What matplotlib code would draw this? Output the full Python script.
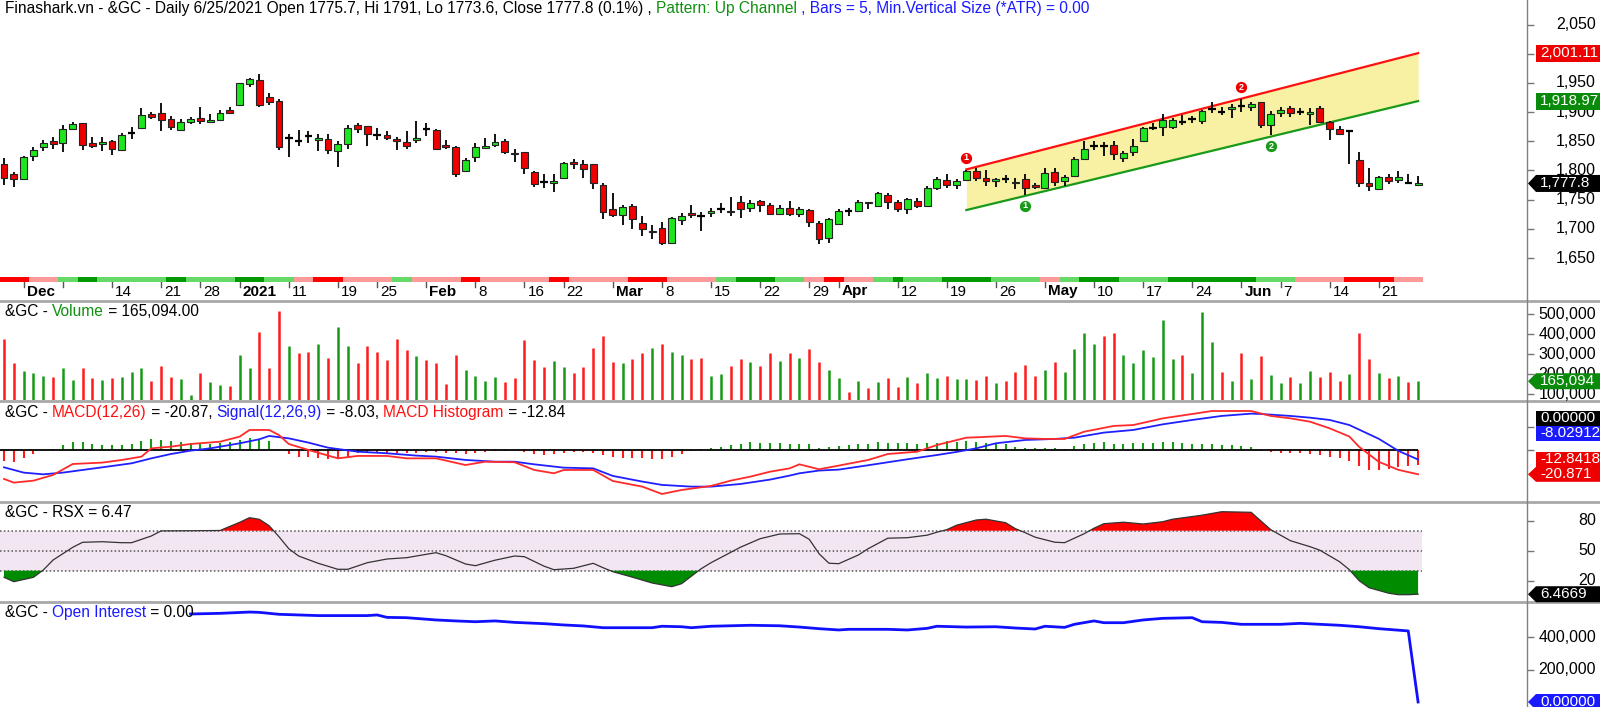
import numpy as np
import pandas as pd
import matplotlib
matplotlib.use('Agg')
import matplotlib.pyplot as plt
from matplotlib.patches import Polygon
from matplotlib.lines import Line2D
from matplotlib import transforms

plt.rcParams['font.family'] = ['Liberation Sans', 'DejaVu Sans']

W, H = 1600, 707
AXIS_X = 1527

# ---------------- data ----------------
holidays = ['2020-12-25', '2021-01-01', '2021-01-18', '2021-02-15', '2021-04-02', '2021-05-31']
dates = pd.bdate_range('2020-11-27', '2021-06-25', freq='C', holidays=holidays)

opens = [1811.2, 1794.8, 1784.9, 1824.7, 1839.9, 1850.4, 1846.9, 1870.3, 1880.9, 1847.5,
         1845.7, 1850.4, 1835.2, 1865.1, 1873.2, 1896.1, 1897.8, 1887.9, 1869.7, 1883.2,
         1890.8, 1882.6, 1886.8, 1903.7, 1912.5, 1948.2, 1955.2, 1925.3, 1919.5, 1855.1,
         1850.4, 1859.2, 1852.2, 1853.4, 1834.1, 1845.1, 1877.4, 1875.6, 1860.4, 1860.4,
         1854.5, 1848.7, 1851.6, 1870.3, 1869.1, 1843.4, 1839.9, 1798.9, 1822.9, 1838.2,
         1843.4, 1850.4, 1830.5, 1831.1, 1797.7, 1779.6, 1779.0, 1786.7, 1815.3, 1810.7,
         1810.7, 1774.9, 1734.5, 1723.4, 1739.3, 1709.4, 1695.3, 1701.7, 1676.5, 1714.7,
         1726.9, 1722.2, 1727.5, 1734.0, 1731.0, 1745.6, 1735.7, 1747.4, 1740.4, 1725.7,
         1736.3, 1725.7, 1732.8, 1710.5, 1684.1, 1708.8, 1730.4, 1731.0, 1746.2, 1739.8,
         1758.5, 1746.8, 1734.5, 1747.9, 1739.3, 1769.7, 1783.2, 1774.3, 1783.7, 1798.9,
         1787.8, 1781.4, 1785.5, 1780.2, 1786.1, 1775.5, 1770.8, 1797.7, 1781.4, 1790.8,
         1820.5, 1842.3, 1842.3, 1843.4, 1821.7, 1832.3, 1850.4, 1873.2, 1875.0, 1875.0,
         1882.6, 1889.1, 1885.6, 1906.0, 1900.8, 1905.5, 1911.3, 1909.6, 1916.6, 1877.9,
         1899.0, 1906.6, 1900.8, 1896.6, 1906.6, 1883.8, 1871.5, 1867.3, 1817.6, 1777.8,
         1769.1, 1788.4, 1783.7, 1779.0, 1775.7]
highs = [1821.7, 1797.7, 1825.2, 1841.1, 1852.2, 1856.9, 1877.9, 1883.8, 1880.9, 1858.1,
         1856.9, 1852.2, 1865.1, 1875.0, 1906.6, 1900.7, 1916.5, 1893.7, 1888.5, 1891.9,
         1908.4, 1896.1, 1903.7, 1909.6, 1950.5, 1959.3, 1965.2, 1933.6, 1922.4, 1862.8,
         1869.1, 1867.3, 1862.8, 1862.8, 1851.0, 1877.4, 1880.9, 1876.8, 1872.1, 1866.9,
         1858.1, 1867.9, 1885.0, 1882.1, 1870.9, 1852.2, 1842.3, 1821.7, 1846.3, 1855.1,
         1862.8, 1854.5, 1836.4, 1832.3, 1798.9, 1793.7, 1794.8, 1815.3, 1819.4, 1818.3,
         1810.7, 1777.8, 1762.1, 1741.0, 1742.2, 1722.2, 1706.4, 1712.3, 1721.1, 1727.5,
         1741.0, 1729.3, 1736.3, 1744.0, 1753.8, 1756.8, 1749.1, 1749.1, 1745.1, 1740.4,
         1747.4, 1738.1, 1734.0, 1714.1, 1718.2, 1734.5, 1736.3, 1749.1, 1746.2, 1763.3,
         1760.9, 1749.1, 1752.7, 1753.3, 1773.7, 1789.6, 1794.8, 1785.5, 1800.7, 1803.6,
         1800.7, 1787.2, 1792.6, 1786.7, 1794.8, 1779.0, 1803.6, 1803.6, 1792.6, 1823.5,
         1850.4, 1851.0, 1849.3, 1850.4, 1833.5, 1853.4, 1875.0, 1882.1, 1896.1, 1889.7,
         1894.9, 1893.1, 1903.7, 1916.6, 1908.4, 1914.3, 1922.4, 1916.6, 1917.2, 1902.5,
         1908.4, 1911.3, 1906.6, 1907.8, 1911.3, 1885.0, 1876.2, 1869.1, 1832.3, 1803.6,
         1790.2, 1794.8, 1798.9, 1793.7, 1791.0]
lows = [1774.9, 1772.0, 1783.7, 1817.1, 1833.5, 1837.6, 1832.3, 1869.1, 1835.2, 1838.2,
        1834.1, 1825.8, 1834.1, 1854.5, 1871.4, 1887.9, 1866.9, 1869.7, 1867.4, 1879.7,
        1879.7, 1881.5, 1885.0, 1896.1, 1911.9, 1943.5, 1908.4, 1912.5, 1835.2, 1822.3,
        1842.3, 1847.5, 1834.1, 1828.2, 1806.5, 1837.6, 1865.1, 1842.2, 1852.2, 1852.2,
        1835.2, 1836.4, 1847.5, 1859.2, 1836.4, 1836.4, 1789.6, 1797.1, 1814.2, 1836.4,
        1841.1, 1827.6, 1815.3, 1793.7, 1772.0, 1770.8, 1763.8, 1784.9, 1801.8, 1787.8,
        1767.9, 1716.4, 1720.0, 1705.9, 1699.4, 1687.1, 1682.4, 1671.8, 1675.3, 1706.4,
        1719.4, 1696.4, 1721.1, 1726.3, 1722.8, 1719.4, 1728.1, 1729.3, 1724.6, 1724.6,
        1721.6, 1720.0, 1703.5, 1674.1, 1675.3, 1706.4, 1722.8, 1730.4, 1734.0, 1736.9,
        1734.0, 1729.3, 1724.6, 1735.7, 1736.9, 1766.8, 1770.2, 1769.1, 1782.6, 1782.6,
        1773.7, 1772.0, 1777.8, 1768.0, 1758.0, 1769.1, 1769.6, 1773.7, 1773.1, 1788.4,
        1818.8, 1835.2, 1824.7, 1818.3, 1815.3, 1825.2, 1849.3, 1869.1, 1859.2, 1870.3,
        1877.4, 1880.9, 1879.7, 1897.8, 1894.9, 1889.7, 1900.8, 1902.5, 1873.2, 1861.0,
        1890.9, 1890.9, 1894.9, 1877.9, 1880.9, 1852.2, 1860.4, 1811.3, 1772.0, 1765.6,
        1768.0, 1776.7, 1777.8, 1778.5, 1773.6]
closes = [1786.7, 1784.9, 1823.5, 1835.2, 1846.3, 1845.7, 1870.3, 1879.1, 1843.4, 1842.2,
          1848.7, 1836.4, 1860.4, 1865.1, 1894.3, 1891.9, 1886.8, 1875.0, 1882.6, 1888.5,
          1885.6, 1887.3, 1897.8, 1899.0, 1949.3, 1957.0, 1912.5, 1917.7, 1841.1, 1855.1,
          1850.4, 1859.2, 1855.7, 1835.2, 1845.1, 1872.6, 1870.3, 1862.2, 1860.4, 1855.7,
          1849.8, 1842.2, 1856.3, 1870.3, 1837.6, 1841.1, 1794.8, 1818.3, 1839.9, 1842.8,
          1848.7, 1832.3, 1827.6, 1803.6, 1776.7, 1779.6, 1781.4, 1812.4, 1811.8, 1801.8,
          1777.8, 1729.3, 1723.4, 1737.5, 1716.4, 1699.4, 1697.0, 1675.3, 1718.8, 1722.8,
          1723.4, 1722.2, 1731.0, 1734.0, 1728.1, 1734.5, 1744.5, 1740.4, 1725.7, 1735.7,
          1725.7, 1734.5, 1711.7, 1682.4, 1716.4, 1729.8, 1730.4, 1745.6, 1745.1, 1760.9,
          1746.8, 1734.5, 1750.3, 1739.3, 1769.7, 1786.1, 1774.3, 1781.4, 1798.3, 1786.7,
          1782.6, 1785.5, 1785.5, 1777.8, 1770.8, 1771.4, 1796.5, 1780.2, 1789.6, 1820.5,
          1836.4, 1842.3, 1842.3, 1827.6, 1829.4, 1842.8, 1872.1, 1873.2, 1886.8, 1886.8,
          1882.6, 1889.1, 1901.9, 1906.0, 1900.8, 1909.6, 1911.3, 1914.3, 1877.9, 1896.1,
          1903.7, 1899.0, 1900.8, 1900.8, 1883.8, 1870.9, 1862.8, 1867.3, 1779.0, 1773.1,
          1788.4, 1782.6, 1788.4, 1779.0, 1777.8]

# trend strip under the price chart: run lengths of r=red, p=pink, l=light green, d=dark green
strip_runs = [('r', 3), ('p', 3), ('l', 2), ('d', 2), ('l', 7), ('d', 2), ('l', 5), ('d', 3),
              ('l', 3), ('p', 2), ('r', 3), ('p', 5), ('l', 2), ('p', 5), ('r', 2), ('p', 7),
              ('r', 2), ('p', 6), ('r', 4), ('p', 5), ('l', 2), ('d', 4), ('l', 3), ('p', 2),
              ('r', 2), ('p', 3), ('l', 2), ('d', 1), ('l', 4), ('d', 5), ('l', 5), ('p', 2),
              ('l', 2), ('d', 4), ('l', 5), ('d', 9), ('l', 4), ('p', 5), ('r', 5), ('p', 3)]

# up channel
ch_idx = [98, 144]
ch_upper = [1801.8, 2001.11]
ch_lower = [1732.2, 1918.97]
mark_idx = [98, 126, 104, 129]
mark_val = [1821.7, 1942.3, 1739.3, 1841.6]
mark_txt = ['1', '2', '1', '2']
mark_up = [True, True, False, False]

# volume in thousands
volume = [374, 256, 218, 204, 193, 188, 230, 171, 233, 181, 171, 181, 188, 213, 233, 164, 243, 188,
          174, 97, 208, 159, 147, 142, 298, 230, 411, 230, 517, 339, 305, 312, 349, 282, 436, 339,
          256, 339, 312, 273, 377, 322, 290, 273, 255, 151, 297, 221, 193, 164, 188, 159, 181, 369,
          273, 238, 265, 235, 204, 238, 332, 391, 260, 256, 277, 308, 329, 352, 310, 297, 277, 282,
          191, 199, 243, 277, 261, 241, 305, 268, 308, 280, 327, 260, 221, 181, 112, 164, 129, 159,
          181, 137, 188, 156, 208, 181, 189, 177, 177, 171, 189, 156, 164, 213, 248, 189, 221, 263,
          209, 324, 406, 349, 391, 403, 298, 256, 322, 285, 470, 277, 298, 206, 508, 361, 213, 166,
          305, 177, 293, 196, 157, 186, 156, 216, 186, 209, 164, 201, 406, 277, 204, 181, 189, 161,
          165.094]
vol_colors = ("rrgggrggrr" "grgggrrrgg" "rggrggrrrg" "rrgrggrrrr" "rrgrrrrggg"
              "grrrrrggrr" "rrrgrrgrgg" "rrggrrgrrg" "rgrrggrgrg" "rrgrggrggr"
              "rgrrrrgrgg" "ggrrgggggg" "rgggrgrgrg" "grggrrrgrr" "grgrg")

macd_idx = [0, 1, 3, 5, 7, 10, 12, 14, 15, 17, 19, 22, 24, 25, 27, 28, 29, 31, 34, 36, 39, 41, 44,
            47, 49, 52, 54, 56, 57, 60, 62, 65, 67, 69, 72, 74, 76, 78, 80, 81, 83, 85, 88, 90,
            93, 95, 98, 99, 102, 104, 106, 108, 110, 113, 115, 118, 121, 123, 127, 129, 131, 133,
            135, 137, 138, 139, 140, 142, 144]
macd_val = [-24.9, -28.1, -26.4, -21.4, -11.9, -10.7, -8.4, -5.5, 1.7, 3.2, 5.5, 7.5, 11.9, 17.7,
            17.7, 13.3, 5.5, 0.3, -7.0, -4.9, -4.9, -7.0, -7.0, -12.8, -9.9, -10.4, -17.1, -20.0,
            -17.1, -17.1, -26.7, -31.6, -38.0, -34.5, -31.0, -26.4, -22.9, -18.6, -15.7, -12.2,
            -16.5, -13.3, -8.4, -3.2, -1.2, 4.6, 11.0, 11.3, 12.5, 10.4, 9.9, 9.9, 16.2, 21.2, 22.0,
            27.8, 31.6, 34.2, 34.2, 29.9, 27.8, 24.9, 19.1, 12.0, 3.0, -3.5, -10.0, -17.0, -20.87]
sig_idx = [0, 2, 4, 6, 8, 10, 13, 15, 17, 19, 21, 24, 26, 27, 29, 31, 33, 36, 39, 42, 44, 47, 50,
           52, 54, 57, 60, 62, 65, 67, 70, 72, 75, 78, 80, 81, 83, 85, 88, 92, 95, 97, 99, 101,
           104, 107, 109, 112, 115, 118, 121, 124, 127, 128, 131, 133, 135, 137, 138, 140, 142, 144]
sig_val = [-14.8, -19.4, -20.9, -19.4, -17.1, -14.8, -11.3, -7.0, -3.2, -0.3, 1.7, 6.1, 9.6, 12.5,
           10.4, 6.7, 2.3, -1.2, -2.6, -4.6, -5.5, -8.4, -9.9, -9.9, -12.2, -15.1, -15.7, -22.3,
           -27.2, -30.1, -31.6, -31.6, -29.3, -25.5, -22.0, -20.0, -17.6, -16.8, -13.0, -7.8, -4.1,
           -1.4, 1.7, 6.1, 9.0, 9.9, 11.0, 15.4, 17.7, 22.6, 26.4, 29.9, 31.9, 31.6, 29.9, 28.4,
           26.4, 22.0, 18.0, 10.0, -0.5, -8.03]
macd_hist = [-9.0, -9.9, -7.0, -3.5, 0.6, 1.2, 4.3, 7.0, 7.0, 5.5, 4.9, 4.3, 4.9, 5.8, 8.4, 9.6,
             9.3, 8.1, 7.0, 6.7, 6.7, 5.5, 6.1, 7.0, 9.3, 11.0, 9.9, 7.8, 0.3, -3.5, -5.5, -5.5,
             -6.4, -7.8, -7.0, -5.5, -2.6, -2.3, -2.6, -2.0, -2.0, -2.0, -2.0, -1.7, -1.7, -2.0,
             -2.6, -3.5, -2.6, -1.4, -0.3, -0.3, 0.3, -1.2, -3.5, -4.3, -3.5, -2.6, -1.7, -1.7,
             -2.6, -4.3, -6.1, -6.4, -7.0, -7.0, -7.5, -7.8, -5.5, -3.2, -0.3, 0.9, 2.0, 3.2, 4.3,
             5.5, 7.2, 6.1, 6.1, 6.1, 5.5, 5.2, 5.2, 1.7, 3.2, 4.1, 4.6, 5.2, 5.5, 7.5, 6.7, 6.1,
             6.1, 5.2, 6.1, 6.7, 8.1, 7.5, 8.4, 7.5, 6.1, 5.5, 5.5, 3.2, 1.7, 1.7, 1.7, 1.7, 1.2,
             3.8, 5.2, 6.7, 7.0, 5.5, 5.5, 6.1, 6.7, 6.7, 7.2, 7.0, 6.7, 5.8, 5.5, 5.5, 4.6, 4.3,
             3.8, 2.6, -0.6, -1.2, -2.0, -2.6, -2.6, -3.5, -4.1, -5.5, -6.4, -9.3, -13.3, -17.1,
             -17.1, -16.5, -14.2, -13.6, -12.84]

rsx_idx = [0, 1, 3, 4, 5, 7, 8, 10, 12, 13, 15, 16, 18, 22, 24, 25, 26, 27, 28, 29, 30, 32, 34,
           35, 37, 39, 41, 43, 44, 45, 47, 48, 50, 52, 53, 55, 56, 58, 60, 61, 62, 64, 66, 68, 69,
           71, 72, 75, 77, 79, 81, 82, 83, 84, 85, 87, 88, 90, 92, 94, 95, 96, 97, 99, 100, 102,
           103, 104, 105, 107, 108, 110, 111, 112, 114, 116, 118, 119, 122, 124, 127, 129, 131,
           133, 134, 136, 137, 138, 139, 141, 142, 143, 144]
rsx_val = [23.4, 19.0, 23.4, 30.7, 40.7, 53.4, 58.4, 59.0, 58.0, 58.0, 64.7, 69.8, 69.9, 70.2,
           78.4, 83.0, 81.4, 75.0, 64.0, 52.0, 44.7, 37.4, 31.4, 31.4, 38.0, 41.7, 43.0, 46.4,
           48.0, 45.0, 36.7, 35.0, 40.5, 44.7, 44.0, 34.5, 31.0, 32.4, 37.4, 33.0, 29.0, 23.5,
           17.7, 14.0, 17.0, 32.0, 38.0, 53.5, 62.0, 66.7, 67.0, 61.4, 47.0, 37.5, 37.0, 45.7,
           52.0, 62.5, 63.0, 65.5, 68.5, 71.0, 75.5, 80.7, 81.5, 78.0, 72.0, 68.0, 63.5, 58.5,
           58.0, 67.0, 72.5, 77.0, 78.5, 76.7, 79.0, 81.5, 85.5, 89.0, 88.4, 71.0, 60.0, 54.0,
           50.5, 39.0, 31.0, 20.0, 13.0, 7.5, 6.0, 6.0, 6.47]

# open interest in thousands
oi_idx = [19, 22, 25, 26, 28, 32, 37, 38, 39, 41, 44, 46, 48, 50, 52, 55, 57, 59, 61, 66, 67, 69,
          70, 72, 76, 79, 81, 83, 85, 86, 90, 92, 94, 95, 98, 101, 103, 105, 106, 108, 109, 111,
          112, 114, 116, 118, 121, 122, 124, 126, 130, 132, 134, 136, 138, 140, 143, 144]
oi_val = [545, 549, 557, 555, 543, 535, 535, 539, 524, 522, 508, 502, 497, 502, 493, 485, 477,
          471, 460, 460, 469, 466, 460, 469, 475, 472, 464, 454, 446, 450, 450, 446, 456, 469,
          464, 466, 458, 452, 469, 462, 481, 502, 491, 491, 508, 518, 522, 497, 493, 481, 481,
          487, 481, 475, 466, 454, 440, 0]

tick_dates = ['2020-12-01', '2020-12-07', '2020-12-14', '2020-12-21', '2020-12-28', '2021-01-04',
              '2021-01-11', '2021-01-19', '2021-01-25', '2021-02-01', '2021-02-08', '2021-02-16',
              '2021-02-22', '2021-03-01', '2021-03-08', '2021-03-15', '2021-03-22', '2021-03-29',
              '2021-04-01', '2021-04-12', '2021-04-19', '2021-04-26', '2021-05-03', '2021-05-10',
              '2021-05-17', '2021-05-24', '2021-06-01', '2021-06-07', '2021-06-14', '2021-06-21']
tick_labels = ['Dec', '', '14', '21', '28', '2021', '11', '19', '25', 'Feb', '8', '16', '22', 'Mar',
               '8', '15', '22', '29', 'Apr', '12', '19', '26', 'May', '10', '17', '24', 'Jun', '7',
               '14', '21']

# ---------------- styling ----------------
GREEN_BODY = '#1ee61e'
RED_BODY = '#ee0000'
VOL_GREEN = '#169a16'
VOL_RED = '#ff1a1a'
strip_colors = {'r': '#ff0000', 'p': '#ff9a9a', 'l': '#66d966', 'd': '#009a00'}
TITLE_SIZE = 11.2
LABEL_SIZE = 11.5
TAG_SIZE = 11

x = np.arange(len(dates))
XLIM = (-4 / 9.82, (AXIS_X - 4) / 9.82)

fig = plt.figure(figsize=(W / 100, H / 100), dpi=100, facecolor='white')


def panel(top, bottom):
    return fig.add_axes([0, 1 - bottom / H, AXIS_X / W, (bottom - top) / H])


def setup(ax, ylim, ticks):
    ax.set_xlim(XLIM)
    ax.set_ylim(*ylim)
    ax.set_xticks([])
    ax.yaxis.tick_right()
    ax.set_yticks(ticks)
    ax.tick_params(axis='y', direction='out', length=5, width=1, color='#777777',
                   labelright=False, labelleft=False)
    for s in ax.spines.values():
        s.set_visible(False)


def rich_title(ax, top_px, parts, size=TITLE_SIZE):
    t = ax.text(5 / AXIS_X, 1 - top_px / ax.bbox.height, parts[0][0], color=parts[0][1],
                transform=ax.transAxes, ha='left', va='top', fontsize=size, zorder=8)
    for s, c in parts[1:]:
        t = ax.annotate(s, xy=(1, 0), xycoords=t, ha='left', va='bottom', color=c,
                        fontsize=size, zorder=8)


def right_labels(ax, vals, texts):
    tr = transforms.blended_transform_factory(fig.transFigure, ax.transData)
    for v, t in zip(vals, texts):
        fig.text(1596 / W, v, t, transform=tr, ha='right', va='center', fontsize=LABEL_SIZE,
                 color='black', zorder=3)


def tag(ax, y, label, color, arrow=False, h=16):
    tr = transforms.blended_transform_factory(fig.transFigure, ax.transData)
    y0, y1 = ax.get_ylim()
    dy = h / 2 / (ax.bbox.height / (y1 - y0))
    xl, xr, tip = 1536 / W, 1.0, 1528 / W
    if arrow:
        verts = [(tip, y), (xl, y + dy), (xr, y + dy), (xr, y - dy), (xl, y - dy)]
    else:
        verts = [(xl, y + dy), (xr, y + dy), (xr, y - dy), (xl, y - dy)]
    fig.add_artist(Polygon(verts, closed=True, transform=tr, fc=color, ec='none', zorder=5))
    fig.text(1540 / W, y, label, transform=tr, color='white', fontsize=TAG_SIZE,
             va='center', ha='left', zorder=6)


# ---------------- price panel ----------------
ax_p = panel(0, 282)
P_LIM = (1608.9, 2092.2)
setup(ax_p, P_LIM, np.arange(1650, 2051, 50))

ax_p.fill_between(ch_idx, ch_lower, ch_upper, color='#f8f0a2', zorder=1, lw=0)
ax_p.plot(ch_idx, ch_upper, color='#ff1010', lw=1.6, zorder=2)
ax_p.plot(ch_idx, ch_lower, color='#1a9a1a', lw=1.6, zorder=2)

o = np.array(opens)
c = np.array(closes)
ax_p.vlines(x, lows, highs, color='black', lw=1.3, zorder=3)
body = o != c
cols = np.where(c >= o, GREEN_BODY, RED_BODY)
ax_p.bar(x[body], np.abs(c - o)[body], bottom=np.minimum(o, c)[body], width=0.7,
         color=cols[body], edgecolor='#222222', lw=0.8, zorder=4)
ax_p.hlines(c[~body], x[~body] - 0.38, x[~body] + 0.38, color='black', lw=1.6, zorder=4)

for i, v, t, up in zip(mark_idx, mark_val, mark_txt, mark_up):
    ax_p.scatter([i], [v], s=66, color='#ee0000' if up else '#1a9a1a', zorder=6, lw=0)
    ax_p.text(i, v, t, color='white', fontsize=6.5, fontweight='bold', ha='center',
              va='center', zorder=7)

strip = ''.join(k * n for k, n in strip_runs)
strip_h = 5 / (282 / (P_LIM[1] - P_LIM[0]))
ax_p.bar(x, strip_h, bottom=P_LIM[0], width=1.0, color=[strip_colors[k] for k in strip],
         lw=0, zorder=5)

xt = ax_p.get_xaxis_transform()
date_pos = {d.strftime('%Y-%m-%d'): i for i, d in enumerate(dates)}
for d, lab in zip(tick_dates, tick_labels):
    xi = date_pos[d]
    ax_p.plot([xi, xi], [0, -5 / 282], transform=xt, clip_on=False, color='#555555', lw=1)
    bold = lab in ('Dec', '2021', 'Feb', 'Mar', 'Apr', 'May', 'Jun')
    ax_p.text(xi + 0.3, -9.5 / 282, lab, transform=xt, ha='left', va='center',
              fontsize=11, fontweight='bold' if bold else 'normal', clip_on=False)

rich_title(ax_p, 1.0, [
    ('Finashark.vn - &GC - Daily 6/25/2021 Open 1775.7, Hi 1791, Lo 1773.6, '
     'Close 1777.8 (0.1%) , ', 'black'),
    ('Pattern: Up Channel', '#109010'),
    (' , Bars = 5, Min.Vertical Size (*ATR) = 0.00', '#1a1aff')])

# the 2,000 label sits fully behind the channel tag in the original, so it is left out
price_ticks = [1650, 1700, 1750, 1800, 1850, 1900, 1950, 2050]
right_labels(ax_p, price_ticks, [f'{v:,}' for v in price_ticks])
tag(ax_p, ch_upper[-1], f'{ch_upper[-1]:,.2f}', '#ee0000', h=17)
tag(ax_p, ch_lower[-1], f'{ch_lower[-1]:,.2f}', '#0a8a0a', h=17)
tag(ax_p, closes[-1], f'{closes[-1]:,.1f}', 'black', arrow=True, h=17)

# ---------------- volume panel ----------------
ax_v = panel(301, 400)
V_LIM = (71.6e3, 564.8e3)
setup(ax_v, V_LIM, np.arange(100e3, 500001, 100e3))
vol = np.array(volume) * 1000
ax_v.vlines(x, V_LIM[0], vol, colors=[VOL_GREEN if k == 'g' else VOL_RED for k in vol_colors],
            lw=1.8)
rich_title(ax_v, 3.5, [('&GC - ', 'black'), ('Volume', '#109010'), (' = 165,094.00', 'black')])
vt = [100000, 200000, 300000, 400000, 500000]
right_labels(ax_v, vt, [f'{v:,}' for v in vt])
tag(ax_v, vol[-1], f'{vol[-1]:,.0f}', '#0a8a0a', arrow=True)

# ---------------- MACD panel ----------------
ax_m = panel(401, 501)
setup(ax_m, (-44.1, 42.9), [0, 20])
hist = np.array(macd_hist)
ax_m.vlines(x, 0, hist, colors=np.where(hist >= 0, VOL_GREEN, VOL_RED), lw=1.5, zorder=2)
ax_m.hlines(0, XLIM[0], len(x) - 1, color='black', lw=1.3, zorder=3)
ax_m.plot(sig_idx, sig_val, color='#2020ff', lw=1.3, zorder=4)
ax_m.plot(macd_idx, macd_val, color='#ff2a2a', lw=1.3, zorder=5)
rich_title(ax_m, 3.5, [('&GC - ', 'black'), ('MACD(12,26)', '#ff1010'), (' = -20.87, ', 'black'),
                       ('Signal(12,26,9)', '#1a1aff'), (' = -8.03, ', 'black'),
                       ('MACD Histogram', '#ff1010'), (' = -12.84', 'black')])
tag(ax_m, 28.0, '0.00000', 'black', h=15)
tag(ax_m, 15.0, '-8.02912', '#1a1aff', h=15)
tag(ax_m, -7.6, '-12.8418', '#ee0000', h=15)
tag(ax_m, macd_val[-1], '-20.871', '#ee0000', arrow=True, h=15)

# ---------------- RSX panel ----------------
ax_r = panel(502, 601)
setup(ax_r, (-0.3, 98.7), [20, 50, 80])
band_x = [XLIM[0], len(x) - 0.6]
ax_r.fill_between(band_x, 30, 70, color='#f2e6f2', lw=0, zorder=1)
ax_r.hlines([30, 50, 70], band_x[0], band_x[1], colors='#555555', linestyles=(0, (1, 1.5)),
            lw=1.1, zorder=2)
rv = np.array(rsx_val)
ax_r.fill_between(rsx_idx, rv, 70, where=rv >= 70, interpolate=True, color='#ff0000', lw=0, zorder=3)
ax_r.fill_between(rsx_idx, rv, 30, where=rv <= 30, interpolate=True, color='#008c00', lw=0, zorder=3)
ax_r.plot(rsx_idx, rsx_val, color='#333333', lw=0.9, zorder=4)
rich_title(ax_r, 3.0, [('&GC - RSX = 6.47', 'black')])
right_labels(ax_r, [80, 50, 20], ['80', '50', '20'])
tag(ax_r, rsx_val[-1], '6.4669', 'black', arrow=True)

# ---------------- open interest panel ----------------
ax_o = panel(602, 707)
setup(ax_o, (-31e3, 619.2e3), [200e3, 400e3])
ax_o.plot(oi_idx, np.array(oi_val) * 1000, color='#1010ff', lw=2)
rich_title(ax_o, 3.0, [('&GC - ', 'black'), ('Open Interest', '#1a1aff'), (' = 0.00', 'black')])
right_labels(ax_o, [400000, 200000], ['400,000', '200,000'])
tag(ax_o, 0, '0.00000', '#1a1aff', arrow=True)

# ---------------- frame lines ----------------
for yp in (300.5, 400.5, 501.5, 601.5):
    fig.add_artist(Line2D([0, 1], [1 - yp / H] * 2, transform=fig.transFigure,
                          color='#a8a8a8', lw=2, zorder=2))
fig.add_artist(Line2D([AXIS_X / W] * 2, [0, 1], transform=fig.transFigure,
                      color='#808080', lw=1, zorder=2))

fig.savefig('out.png', dpi=100, facecolor='white')
